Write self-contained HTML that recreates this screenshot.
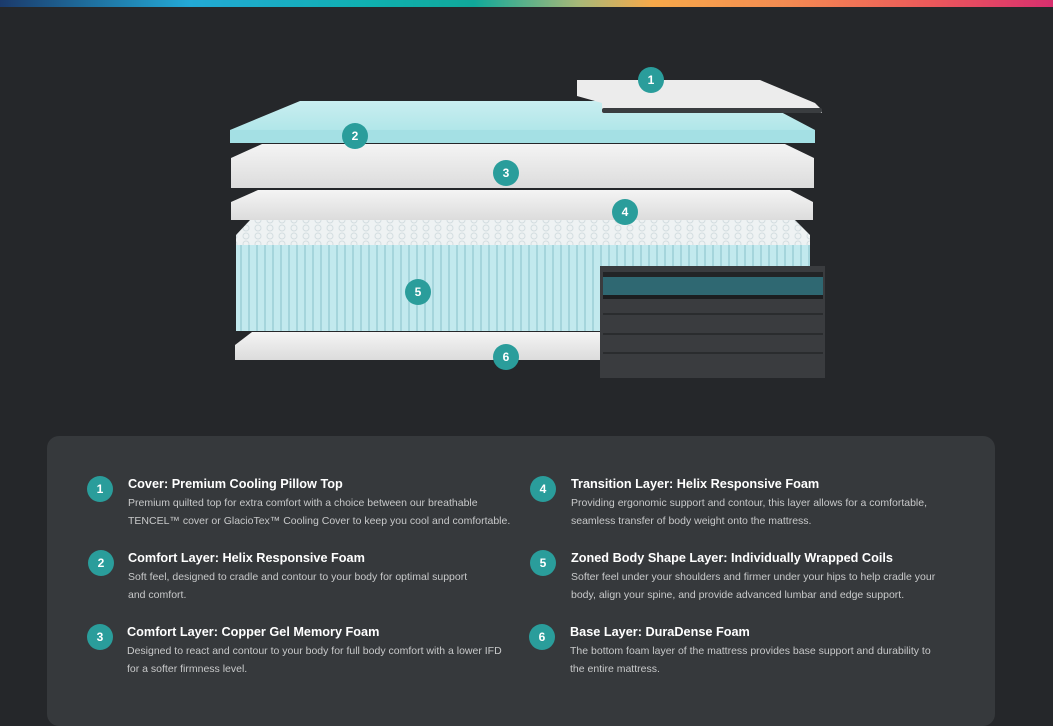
<!DOCTYPE html>
<html><head><meta charset="utf-8"><style>
*{margin:0;padding:0;box-sizing:border-box}
body{width:1053px;height:700px;background:#25272a;position:relative;overflow:hidden;font-family:"Liberation Sans",sans-serif}
.bar{position:absolute;left:0;top:0;width:1053px;height:7px;background:linear-gradient(90deg,#1b3a6b 0%,#23a9d6 18%,#0fb0b0 35%,#10a89a 45%,#a8b878 55%,#f7a94a 62%,#f48a52 75%,#ec5a5a 88%,#d82f6e 100%)}
.panel{position:absolute;left:47px;top:436px;width:948px;height:290px;background:#36393c;border-radius:12px}
.b{position:absolute;width:26px;height:26px;border-radius:50%;background:#2a9d9b;color:#fff;font-weight:bold;font-size:12px;line-height:26px;text-align:center}
.t{position:absolute;color:#fff;font-weight:bold;font-size:12.7px;white-space:nowrap}
.d{position:absolute;color:#c8c9ca;font-size:10.5px;line-height:18px;white-space:nowrap}
</style></head><body>
<div class="bar"></div>
<svg width="1053" height="420" style="position:absolute;left:0;top:0">
<defs>
<linearGradient id="cy" x1="0" y1="0" x2="0" y2="1"><stop offset="0" stop-color="#c9eef0"/><stop offset="1" stop-color="#a6e3e6"/></linearGradient>
<linearGradient id="wh" x1="0" y1="0" x2="0" y2="1"><stop offset="0" stop-color="#f4f4f4"/><stop offset="1" stop-color="#dcdcdc"/></linearGradient>
<pattern id="rib" width="8" height="10" patternUnits="userSpaceOnUse"><rect width="8" height="10" fill="#c2e9ee"/><rect width="2" height="10" fill="#a5d5dc"/></pattern>
<pattern id="coil" width="12" height="8" patternUnits="userSpaceOnUse"><rect width="12" height="8" fill="#eef2f3"/><circle cx="6" cy="4" r="3" fill="none" stroke="#d3dde0" stroke-width="1"/></pattern>
</defs>
<polygon points="300,101 760,101 815,130 815,143 230,143 230,130" fill="url(#cy)"/>
<rect x="230" y="130" width="585" height="13" fill="#a4e0e4"/>
<polygon points="577,80 760,80 815,103 822,110 822,113 602,113 602,103 577,96" fill="#ececec"/>
<rect x="602" y="108" width="220" height="5" rx="2" fill="#3a3d40"/>
<polygon points="262,144 785,144 814,158 814,188 231,188 231,158" fill="url(#wh)"/>
<polygon points="258,190 790,190 813,202 813,220 231,220 231,202" fill="url(#wh)"/>
<polygon points="250,220 795,220 810,235 810,247 236,247 236,235" fill="url(#coil)"/>
<rect x="236" y="245" width="574" height="86" fill="url(#rib)"/>
<polygon points="252,332 600,332 600,360 235,360 235,345" fill="url(#wh)"/>
<rect x="600" y="266" width="225" height="112" fill="#3a3c3f"/>
<rect x="603" y="272" width="220" height="5" fill="#222426"/>
<rect x="603" y="277" width="220" height="18" fill="#2f6872"/>
<rect x="603" y="295" width="220" height="4" fill="#1c1e20"/>
<rect x="603" y="313" width="220" height="2" fill="#2a2c2e"/>
<rect x="603" y="333" width="220" height="2" fill="#2a2c2e"/>
<rect x="603" y="352" width="220" height="2" fill="#2a2c2e"/>
</svg>
<div class="b" style="left:638px;top:67px">1</div>
<div class="b" style="left:342px;top:123px">2</div>
<div class="b" style="left:493px;top:160px">3</div>
<div class="b" style="left:612px;top:199px">4</div>
<div class="b" style="left:405px;top:279px">5</div>
<div class="b" style="left:493px;top:344px">6</div>
<div class="panel"></div>
<div class="b" style="left:87px;top:476px">1</div>
<div class="t" style="left:128px;top:477px">Cover: Premium Cooling Pillow Top</div>
<div class="d" style="left:128px;top:494px">Premium quilted top for extra comfort with a choice between our breathable<br>TENCEL™ cover or GlacioTex™ Cooling Cover to keep you cool and comfortable.</div>
<div class="b" style="left:88px;top:550px">2</div>
<div class="t" style="left:128px;top:551px">Comfort Layer: Helix Responsive Foam</div>
<div class="d" style="left:128px;top:568px">Soft feel, designed to cradle and contour to your body for optimal support<br>and comfort.</div>
<div class="b" style="left:87px;top:624px">3</div>
<div class="t" style="left:127px;top:625px">Comfort Layer: Copper Gel Memory Foam</div>
<div class="d" style="left:127px;top:642px">Designed to react and contour to your body for full body comfort with a lower IFD<br>for a softer firmness level.</div>
<div class="b" style="left:530px;top:476px">4</div>
<div class="t" style="left:571px;top:477px">Transition Layer: Helix Responsive Foam</div>
<div class="d" style="left:571px;top:494px">Providing ergonomic support and contour, this layer allows for a comfortable,<br>seamless transfer of body weight onto the mattress.</div>
<div class="b" style="left:530px;top:550px">5</div>
<div class="t" style="left:571px;top:551px">Zoned Body Shape Layer: Individually Wrapped Coils</div>
<div class="d" style="left:571px;top:568px">Softer feel under your shoulders and firmer under your hips to help cradle your<br>body, align your spine, and provide advanced lumbar and edge support.</div>
<div class="b" style="left:529px;top:624px">6</div>
<div class="t" style="left:570px;top:625px">Base Layer: DuraDense Foam</div>
<div class="d" style="left:570px;top:642px">The bottom foam layer of the mattress provides base support and durability to<br>the entire mattress.</div>
</body></html>
